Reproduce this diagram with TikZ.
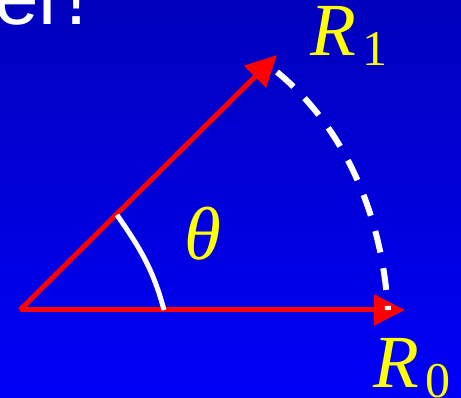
\documentclass[tikz,border=0pt]{standalone}
\usepackage{fontspec}
\setmainfont{Liberation Serif}
\newfontfamily\headfont{Liberation Sans}
\usetikzlibrary{arrows.meta}
\definecolor{bg_top}{RGB}{0,0,188}
\definecolor{bg_bottom}{RGB}{0,0,248}
\definecolor{ray_red}{HTML}{FF0000}
\definecolor{label_yellow}{HTML}{FFFF00}

\begin{document}
\begin{tikzpicture}[x=1pt,y=1pt,
    ray/.style={ray_red,line width=5pt,-{Triangle[length=31pt,width=30pt]}},
    swing/.style={white,line width=6pt,dash pattern=on 22pt off 16pt},
    angmark/.style={white,line width=5pt},
    biglabel/.style={label_yellow,inner sep=0pt}]
    \shade[top color=bg_top,bottom color=bg_bottom] (0,0) rectangle (461,398);
    \useasboundingbox (0,0) rectangle (461,398);
    \clip (0,0) rectangle (461,398);

    \node[white,anchor=base west,inner sep=0pt] (head) at (-6,373)
         {\headfont\fontsize{80}{80}\selectfont er!};

    \coordinate (origin) at (20,88);
    \coordinate (tip0) at (405,88);
    \coordinate (tip1) at (277,343);
    \draw[ray] (origin) -- (tip0);
    \draw[ray] (origin) -- (tip1);

    \coordinate (swingstart) at (277,326);
    \coordinate (swingend) at (388,88);
    \draw[swing] (swingstart) .. controls (345,270) and (382,183) .. (swingend);

    \coordinate (angbottom) at (164,88);
    \coordinate (angtop) at (117,183);
    \draw[angmark] (angbottom) to[out=105,in=-55] (angtop);

    \node[biglabel] (theta) at (203,164) {\fontsize{75}{75}\selectfont\itshape θ};
    \node[biglabel,anchor=base west] (Rone) at (310,342)
         {\fontsize{75}{75}\selectfont\itshape R\kern6pt\raisebox{-10pt}{\upshape\fontsize{50}{50}\selectfont 1}};
    \node[biglabel,anchor=base west] (Rzero) at (373,10)
         {\fontsize{75}{75}\selectfont\itshape R\kern6pt\raisebox{-10pt}{\upshape\fontsize{50}{50}\selectfont 0}};
\end{tikzpicture}
\end{document}
